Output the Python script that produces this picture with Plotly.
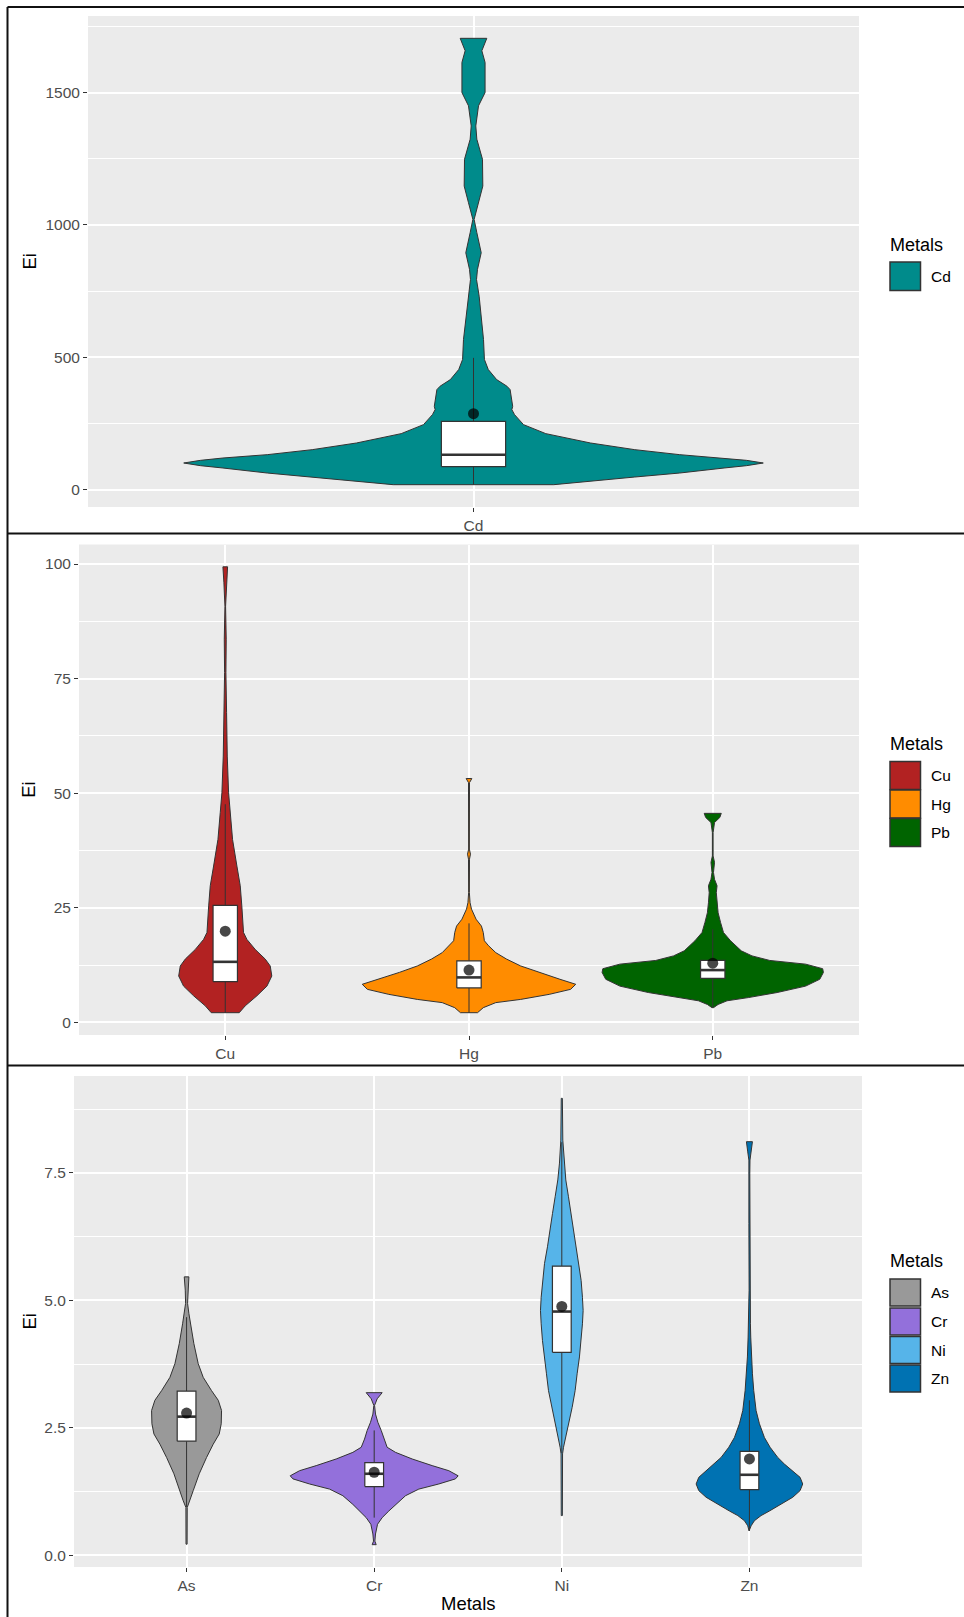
import plotly.graph_objects as go

W, H = 964, 1617

# ---------------- data ----------------
panel1_metals = ["Cd"]
panel2_metals = ["Cu", "Hg", "Pb"]
panel3_metals = ["As", "Cr", "Ni", "Zn"]

metal_colors = {
    "Cd": "#008B8B", "Cu": "#B22222", "Hg": "#FF8C00", "Pb": "#006400",
    "As": "#999999", "Cr": "#9370DB", "Ni": "#56B4E9", "Zn": "#0072B2",
}

# violin outlines: Ei levels and density half-widths (in category units)
cd_level = [19.0, 31.5, 47.9, 63.0, 82.0, 90.8, 100.9, 110.9, 119.8, 132.4, 151.3, 176.5,
            211.8, 245.8, 283.6, 302.5, 315, 378, 391, 416, 454, 492, 567, 643, 731, 794,
            832, 895, 971, 1021, 1084, 1147, 1248, 1324, 1374, 1450, 1500, 1614, 1658, 1705]
cd_width = [0.125, 0.182, 0.251, 0.321, 0.390, 0.425, 0.451, 0.425, 0.390, 0.321, 0.251, 0.182,
            0.1125, 0.0778, 0.0639, 0.0597, 0.061, 0.057, 0.052, 0.036, 0.023, 0.017, 0.0156,
            0.012, 0.0088, 0.0047, 0.0062, 0.012, 0.0052, 0.001, 0.0078, 0.0145, 0.014, 0.0052,
            0.0036, 0.0078, 0.018, 0.018, 0.013, 0.0207]

cu_level = [2.1, 3.6, 5.8, 7.9, 10.1, 12.3, 13.8, 15.9, 18.1, 19.6, 25.4, 29.8, 34.1, 39.9,
            45.8, 50.1, 58.1, 67.6, 76.3, 83.6, 90.8, 95.9, 99.4]
cu_width = [0.0574, 0.082, 0.130, 0.171, 0.191, 0.1845, 0.164, 0.123, 0.0888, 0.075, 0.068,
            0.0615, 0.0478, 0.030, 0.0205, 0.0137, 0.0082, 0.0055, 0.0027, 0.004, 0.0014,
            0.0055, 0.0096]

hg_level = [2.1, 3.2, 4.3, 5.0, 6.1, 7.2, 8.3, 9.4, 10.9, 12.3, 13.8, 15.2, 16.7, 17.8, 19.6,
            21.0, 22.5, 24.7, 26.1, 28.3, 35.6, 36.7, 37.8, 46.5, 52.3, 53.2]
hg_width = [0.035, 0.0586, 0.11, 0.212, 0.329, 0.417, 0.438, 0.373, 0.2855, 0.212, 0.154, 0.11,
            0.0805, 0.063, 0.0586, 0.051, 0.029, 0.0103, 0.0044, 0.0015, 0.002, 0.006, 0.0015,
            0.002, 0.002, 0.0117]

pb_level = [3.2, 3.9, 4.7, 5.4, 6.5, 7.9, 9.4, 10.9, 11.7, 12.7, 13.5, 14.5, 15.6, 17.8, 19.6,
            21.8, 23.9, 26.1, 28.3, 29.8, 31.2, 32.7, 34.9, 36.3, 41.4, 43.6, 44.7, 45.6]
pb_width = [0.003, 0.022, 0.0586, 0.146, 0.264, 0.381, 0.439, 0.454, 0.451, 0.381, 0.234, 0.161,
            0.117, 0.073, 0.044, 0.032, 0.022, 0.0176, 0.0146, 0.0176, 0.0073, 0.003, 0.0073,
            0.0015, 0.0015, 0.0073, 0.029, 0.035]

as_level = [0.22, 0.94, 1.07, 1.27, 1.6, 1.92, 2.18, 2.38, 2.58, 2.84, 3.04, 3.23, 3.49, 3.76,
            4.15, 4.54, 4.74, 4.94, 5.2, 5.46]
as_width = [0.003, 0.0036, 0.0178, 0.0355, 0.0675, 0.1066, 0.142, 0.174, 0.1847, 0.1865, 0.169,
            0.133, 0.0888, 0.062, 0.039, 0.0213, 0.0124, 0.0053, 0.007, 0.0124]

cr_level = [0.21, 0.28, 0.42, 0.61, 0.74, 0.87, 1.0, 1.17, 1.3, 1.4, 1.5, 1.56, 1.66, 1.76, 1.89,
            2.02, 2.12, 2.28, 2.45, 2.61, 2.77, 2.94, 3.07, 3.19]
cr_width = [0.0107, 0.0036, 0.007, 0.0178, 0.0426, 0.078, 0.1137, 0.167, 0.238, 0.3445, 0.433,
            0.4475, 0.398, 0.309, 0.2025, 0.1137, 0.069, 0.0515, 0.0373, 0.0195, 0.007, 0.002,
            0.016, 0.0426]

ni_level = [0.78, 1.99, 2.12, 2.31, 2.58, 2.9, 3.23, 3.56, 3.89, 4.21, 4.54, 4.80, 5.06, 5.39,
            5.72, 6.05, 6.38, 6.70, 7.03, 7.36, 7.69, 7.95, 8.14, 8.96]
ni_width = [0.003, 0.004, 0.009, 0.0195, 0.0355, 0.055, 0.071, 0.0817, 0.094, 0.103, 0.110,
            0.1137, 0.110, 0.103, 0.0923, 0.0764, 0.064, 0.0497, 0.0355, 0.0213, 0.0124, 0.009,
            0.0053, 0.003]

zn_level = [0.48, 0.58, 0.68, 0.78, 0.87, 1.0, 1.14, 1.27, 1.4, 1.53, 1.66, 1.79, 1.92, 2.12,
            2.31, 2.58, 2.84, 3.23, 3.56, 3.89, 4.28, 4.54, 5.2, 6.51, 7.49, 7.75, 7.91, 8.11]
zn_width = [0.002, 0.009, 0.0266, 0.062, 0.1066, 0.169, 0.231, 0.27, 0.284, 0.27, 0.231, 0.1865,
            0.151, 0.110, 0.08, 0.0533, 0.0355, 0.023, 0.016, 0.0107, 0.007, 0.0053, 0.002,
            0.003, 0.002, 0.003, 0.009, 0.016]

violin_levels = {"Cd": cd_level, "Cu": cu_level, "Hg": hg_level, "Pb": pb_level,
                 "As": as_level, "Cr": cr_level, "Ni": ni_level, "Zn": zn_level}
violin_widths = {"Cd": cd_width, "Cu": cu_width, "Hg": hg_width, "Pb": pb_width,
                 "As": as_width, "Cr": cr_width, "Ni": ni_width, "Zn": zn_width}

# boxplot summaries and means
box_metals = ["Cd", "Cu", "Hg", "Pb", "As", "Cr", "Ni", "Zn"]
whisker_low = [19.0, 2.1, 2.1, 3.2, 0.95, 0.74, 2.0, 0.48]
q1 = [87, 8.9, 7.5, 9.6, 2.24, 1.35, 3.98, 1.29]
median = [132, 13.2, 9.8, 11.4, 2.72, 1.60, 4.78, 1.58]
q3 = [258, 25.5, 13.4, 13.5, 3.22, 1.82, 5.67, 2.04]
whisker_high = [498, 47.6, 21.6, 20.3, 4.67, 2.45, 8.1, 3.04]
mean_ei = [287, 19.9, 11.4, 12.9, 2.79, 1.63, 4.88, 1.89]

panel1_ticks = [0, 500, 1000, 1500]
panel2_ticks = [0, 25, 50, 75, 100]
panel3_ticks = [0, 2.5, 5.0, 7.5]
panel3_ticktext = ["0.0", "2.5", "5.0", "7.5"]

# ---------------- layout geometry (pixels) ----------------
FONT = "Liberation Sans, Arial, sans-serif"
OUTLINE = "#333333"
BOX_W = 0.1

panels = [
    dict(metals=panel1_metals, ticks=panel1_ticks, ticktext=None,
         x0=88, x1=859, y0=16, y1=507, frame_top=7,
         legend_title_y=245, keys_y=[(262, 290.5)]),
    dict(metals=panel2_metals, ticks=panel2_ticks, ticktext=None,
         x0=79, x1=859, y0=544.5, y1=1035, frame_top=533.5,
         legend_title_y=744, keys_y=[(761.5, 789.5), (790, 818), (818.5, 846.5)]),
    dict(metals=panel3_metals, ticks=panel3_ticks, ticktext=panel3_ticktext,
         x0=74, x1=862, y0=1076, y1=1567, frame_top=1065.5,
         legend_title_y=1261, keys_y=[(1279, 1306), (1308, 1335), (1336.5, 1363.5), (1365, 1392)]),
]


def px_x(v):
    return v / W


def px_y(v):
    return 1 - v / H


fig = go.Figure()
layout = dict(
    width=W, height=H, margin=dict(l=0, r=0, t=0, b=0),
    paper_bgcolor="white", plot_bgcolor="#EBEBEB", showlegend=False,
    font=dict(family=FONT, color="#000000"),
)
shapes = []
annotations = []

for i, p in enumerate(panels):
    sfx = "" if i == 0 else str(i + 1)
    xref, yref = "x" + sfx, "y" + sfx
    metals = p["metals"]
    n = len(metals)

    all_levels = [v for m in metals for v in violin_levels[m]]
    lo, hi = min(all_levels), max(all_levels)
    pad = 0.05 * (hi - lo)

    for k, m in enumerate(metals):
        c = k + 1
        lv = violin_levels[m]
        hw = violin_widths[m]
        xs = [c - w for w in hw] + [c + w for w in reversed(hw)] + [c - hw[0]]
        ys = list(lv) + list(reversed(lv)) + [lv[0]]
        fig.add_trace(go.Scatter(x=xs, y=ys, mode="lines", fill="toself",
                                 fillcolor=metal_colors[m],
                                 line=dict(color=OUTLINE, width=1),
                                 hoverinfo="skip", xaxis=xref, yaxis=yref))

        j = box_metals.index(m)
        fig.add_trace(go.Scatter(x=[c, c, None, c, c],
                                 y=[whisker_low[j], q1[j], None, q3[j], whisker_high[j]],
                                 mode="lines", line=dict(color=OUTLINE, width=1),
                                 hoverinfo="skip", xaxis=xref, yaxis=yref))
        bx0, bx1 = c - BOX_W / 2, c + BOX_W / 2
        fig.add_trace(go.Scatter(x=[bx0, bx1, bx1, bx0, bx0],
                                 y=[q1[j], q1[j], q3[j], q3[j], q1[j]],
                                 mode="lines", fill="toself", fillcolor="white",
                                 line=dict(color=OUTLINE, width=1.2),
                                 hoverinfo="skip", xaxis=xref, yaxis=yref))
        fig.add_trace(go.Scatter(x=[bx0, bx1], y=[median[j], median[j]], mode="lines",
                                 line=dict(color=OUTLINE, width=2.6),
                                 hoverinfo="skip", xaxis=xref, yaxis=yref))
        fig.add_trace(go.Scatter(x=[c], y=[mean_ei[j]], mode="markers",
                                 marker=dict(size=11, color="rgba(0,0,0,0.72)", line=dict(width=0)),
                                 hoverinfo="skip", xaxis=xref, yaxis=yref))

    step = p["ticks"][1] - p["ticks"][0]
    minor_vals = [t + step / 2 for t in p["ticks"]] + [p["ticks"][0] - step / 2]

    layout["xaxis" + sfx] = dict(
        domain=[px_x(p["x0"]), px_x(p["x1"])], anchor=yref, range=[0.4, n + 0.6],
        tickvals=list(range(1, n + 1)), ticktext=metals,
        showgrid=True, gridcolor="white", gridwidth=1.8, zeroline=False, showline=False,
        ticks="outside", ticklen=4, tickwidth=1.3, tickcolor=OUTLINE,
        tickfont=dict(family=FONT, size=15.5, color="#4D4D4D"), fixedrange=True,
    )
    layout["yaxis" + sfx] = dict(
        domain=[px_y(p["y1"]), px_y(p["y0"])], anchor=xref, range=[lo - pad, hi + pad],
        tickvals=p["ticks"], ticktext=p["ticktext"] or [str(t) for t in p["ticks"]],
        showgrid=True, gridcolor="white", gridwidth=1.8, zeroline=False, showline=False,
        ticks="outside", ticklen=4, tickwidth=1.3, tickcolor=OUTLINE,
        tickfont=dict(family=FONT, size=15.5, color="#4D4D4D"), fixedrange=True,
        minor=dict(tickvals=minor_vals, showgrid=True, gridcolor="white", gridwidth=0.9),
    )

    # y-axis title
    annotations.append(dict(text="Ei", x=px_x(29), y=px_y((p["y0"] + p["y1"]) / 2),
                            xref="paper", yref="paper", showarrow=False, textangle=-90,
                            xanchor="center", yanchor="middle",
                            font=dict(family=FONT, size=18.5, color="#000000")))

    # legend
    annotations.append(dict(text="Metals", x=px_x(888), y=px_y(p["legend_title_y"]),
                            xref="paper", yref="paper", showarrow=False,
                            xanchor="left", yanchor="middle",
                            font=dict(family=FONT, size=18, color="#000000")))
    for m, (ky0, ky1) in zip(metals, p["keys_y"]):
        shapes.append(dict(type="rect", xref="paper", yref="paper",
                           x0=px_x(890), x1=px_x(920.5), y0=px_y(ky1), y1=px_y(ky0),
                           fillcolor=metal_colors[m], line=dict(color=OUTLINE, width=1.5)))
        annotations.append(dict(text=m, x=px_x(929), y=px_y((ky0 + ky1) / 2),
                                xref="paper", yref="paper", showarrow=False,
                                xanchor="left", yanchor="middle",
                                font=dict(family=FONT, size=15.5, color="#000000")))

    # panel frame line on top
    shapes.append(dict(type="line", xref="paper", yref="paper",
                       x0=px_x(7.5), x1=1, y0=px_y(p["frame_top"]), y1=px_y(p["frame_top"]),
                       line=dict(color="#111111", width=2)))

# left frame line
shapes.append(dict(type="line", xref="paper", yref="paper",
                   x0=px_x(7.5), x1=px_x(7.5), y0=0, y1=px_y(7),
                   line=dict(color="#111111", width=2)))

# x-axis title for the bottom panel
annotations.append(dict(text="Metals", x=px_x(468), y=px_y(1603), xref="paper", yref="paper",
                        showarrow=False, xanchor="center", yanchor="middle",
                        font=dict(family=FONT, size=18.5, color="#000000")))

layout["shapes"] = shapes
layout["annotations"] = annotations
fig.update_layout(**layout)
fig.write_html("out.html")
